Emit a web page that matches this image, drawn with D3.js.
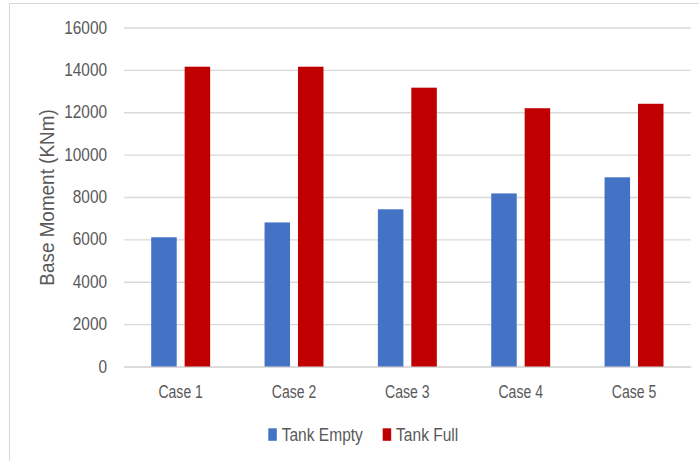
<!DOCTYPE html>
<html>
<head>
<meta charset="utf-8">
<script src="https://cdn.jsdelivr.net/npm/d3@7"></script>
<style>
  html, body { margin: 0; padding: 0; background: #fff; }
  svg { display: block; }
  text { font-family: "Liberation Sans", Arial, sans-serif; fill: #595959; }
</style>
</head>
<body>
<script>
// Base moment per load case, tank empty vs. tank full
const cases = ["Case 1", "Case 2", "Case 3", "Case 4", "Case 5"];
const tankEmpty = [6100, 6800, 7420, 8170, 8930];
const tankFull = [14150, 14150, 13160, 12190, 12400];
const yTicks = [0, 2000, 4000, 6000, 8000, 10000, 12000, 14000, 16000];
const seriesNames = ["Tank Empty", "Tank Full"];
const seriesColors = ["#4472C4", "#C00000"];

const W = 699, H = 461;
const svg = d3.select("body").append("svg").attr("width", W).attr("height", H);

// squeeze text horizontally around its anchor to get a narrow face
function condense(sel, k) {
  sel.each(function () {
    const t = d3.select(this);
    const tx = +t.attr("x") || 0, ty = +t.attr("y") || 0;
    t.attr("x", 0).attr("y", 0).attr("transform", `translate(${tx},${ty}) scale(${k},1)`);
  });
}

// chart frame
svg.append("rect")
  .attr("x", 9.5).attr("y", 3.5).attr("width", W + 10).attr("height", H + 10)
  .attr("fill", "none").attr("stroke", "#d9d9d9").attr("stroke-width", 1);

const plot = { left: 124, right: 690.7, top: 27.5, bottom: 366.5 };

const x = d3.scaleBand().domain(cases).range([plot.left, plot.right]).padding(0);
const y = d3.scaleLinear().domain([0, 16000]).range([plot.bottom, plot.top]);

// gridlines + y tick labels
const yAxis = d3.axisLeft(y).tickValues(yTicks).tickFormat(d3.format("d"))
  .tickSize(-(plot.right - plot.left)).tickPadding(17);
const gy = svg.append("g").attr("transform", `translate(${plot.left},0)`).call(yAxis);
gy.select(".domain").remove();
gy.selectAll(".tick line").attr("stroke", "#d9d9d9").attr("stroke-width", 1.3);
gy.selectAll(".tick text").attr("font-size", 17.5).attr("fill", "#595959");
condense(gy.selectAll(".tick text"), 0.88);

// category axis
const xAxis = d3.axisBottom(x).tickSize(0).tickPadding(18.5);
const gx = svg.append("g").attr("transform", `translate(0,${plot.bottom})`).call(xAxis);
gx.select(".domain").attr("stroke", "#d9d9d9").attr("stroke-width", 1.5);
gx.selectAll(".tick text").attr("font-size", 18.5).attr("fill", "#595959");
condense(gx.selectAll(".tick text"), 0.76);

// bars
const bw = x.bandwidth() * 0.225;
const gap = x.bandwidth() * 0.07;
const offset = (x.bandwidth() - (2 * bw + gap)) / 2;
const seriesData = [tankEmpty, tankFull];
seriesData.forEach((vals, si) => {
  svg.append("g").selectAll("rect")
    .data(cases.map((c, i) => ({ c, v: vals[i] })))
    .join("rect")
    .attr("x", d => x(d.c) + offset + si * (bw + gap))
    .attr("y", d => y(d.v))
    .attr("width", bw)
    .attr("height", d => y(0) - y(d.v))
    .attr("fill", seriesColors[si]);
});

// y axis title
svg.append("text")
  .attr("transform", `translate(54,197.5) rotate(-90) scale(0.9,1)`)
  .attr("text-anchor", "middle")
  .attr("font-size", 21)
  .text("Base Moment  (KNm)");

// legend
const legendX = [268.3, 382.7];
seriesNames.forEach((name, i) => {
  const g = svg.append("g").attr("transform", `translate(${legendX[i]},428.3)`);
  g.append("rect").attr("width", 8.5).attr("height", 12.5).attr("fill", seriesColors[i]);
  g.append("text").attr("x", 13.4).attr("y", 12.7).attr("font-size", 18.5).text(name);
  condense(g.select("text"), 0.84);
});
</script>
</body>
</html>
